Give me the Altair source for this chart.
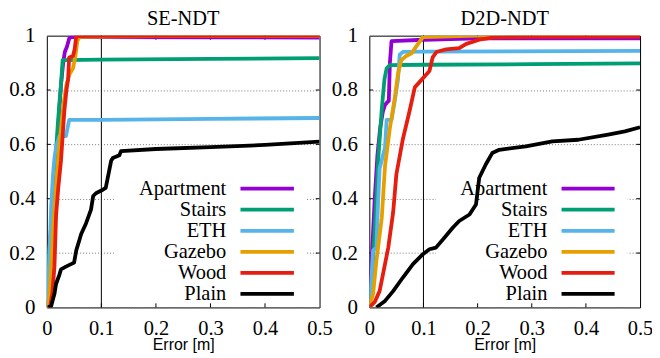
import altair as alt
import pandas as pd

names = ["Apartment", "Stairs", "ETH", "Gazebo", "Wood", "Plain"]
colors = ["#9400d3", "#009e73", "#56b4e9", "#e69f00", "#e51e10", "#000000"]
titles = ["SE-NDT", "D2D-NDT"]
x_ticks = [0, 0.1, 0.2, 0.3, 0.4, 0.5]
y_ticks = [0, 0.2, 0.4, 0.6, 0.8, 1]

# ---------------- SE-NDT ----------------
se_apartment_x = [0, 0.005, 0.01, 0.014, 0.018, 0.022, 0.026, 0.03, 0.033, 0.037, 0.041, 0.045, 0.1, 0.3, 0.5]
se_apartment_y = [0, 0.05, 0.2, 0.4, 0.55, 0.7, 0.82, 0.9, 0.94, 0.96, 0.99, 0.995, 0.995, 0.994, 0.993]
se_stairs_x = [0, 0.001, 0.004, 0.008, 0.012, 0.016, 0.02, 0.023, 0.026, 0.028, 0.029, 0.1, 0.3, 0.5]
se_stairs_y = [0, 0.1, 0.2, 0.3, 0.42, 0.55, 0.67, 0.75, 0.82, 0.88, 0.91, 0.912, 0.915, 0.917]
se_eth_x = [0, 0.002, 0.005, 0.008, 0.011, 0.014, 0.017, 0.023, 0.035, 0.037, 0.041, 0.1, 0.3, 0.5]
se_eth_y = [0, 0.05, 0.2, 0.37, 0.48, 0.55, 0.59, 0.63, 0.63, 0.65, 0.69, 0.69, 0.694, 0.697]
se_gazebo_x = [0, 0.004, 0.008, 0.012, 0.018, 0.024, 0.03, 0.036, 0.042, 0.048, 0.052, 0.056, 0.06, 0.2, 0.5]
se_gazebo_y = [0, 0.02, 0.15, 0.3, 0.48, 0.62, 0.74, 0.82, 0.86, 0.88, 0.92, 0.98, 0.996, 0.998, 0.999]
se_wood_x = [0.006, 0.01, 0.014, 0.017, 0.021, 0.026, 0.032, 0.036, 0.039, 0.041, 0.048, 0.051, 0.054, 0.1, 0.5]
se_wood_y = [0, 0.05, 0.15, 0.34, 0.44, 0.54, 0.72, 0.8, 0.84, 0.92, 0.925, 0.95, 0.998, 0.999, 1.0]
se_plain_x = [0.002, 0.008, 0.014, 0.017, 0.023, 0.026, 0.035, 0.05, 0.054, 0.06, 0.063, 0.072, 0.081, 0.085,
              0.09, 0.1, 0.108, 0.115, 0.118, 0.121, 0.133, 0.136, 0.2, 0.3, 0.4, 0.5]
se_plain_y = [0, 0.005, 0.05, 0.087, 0.12, 0.14, 0.15, 0.165, 0.21, 0.25, 0.27, 0.31, 0.36, 0.41,
              0.42, 0.43, 0.44, 0.51, 0.54, 0.55, 0.56, 0.575, 0.583, 0.59, 0.598, 0.61]

# ---------------- D2D-NDT ----------------
d2d_apartment_x = [0, 0.005, 0.01, 0.015, 0.02, 0.025, 0.029, 0.033, 0.036, 0.038, 0.041, 0.1, 0.2, 0.5]
d2d_apartment_y = [0, 0.2, 0.4, 0.56, 0.66, 0.72, 0.745, 0.755, 0.76, 0.9, 0.98, 0.985, 0.99, 0.99]
d2d_stairs_x = [0, 0.004, 0.01, 0.017, 0.023, 0.028, 0.032, 0.038, 0.1, 0.3, 0.5]
d2d_stairs_y = [0, 0.075, 0.29, 0.56, 0.73, 0.84, 0.88, 0.892, 0.893, 0.895, 0.898]
d2d_eth_x = [0, 0.003, 0.007, 0.013, 0.016, 0.019, 0.024, 0.029, 0.032, 0.041, 0.047, 0.053, 0.056, 0.062, 0.1, 0.5]
d2d_eth_y = [0, 0.08, 0.21, 0.22, 0.38, 0.51, 0.55, 0.59, 0.69, 0.69, 0.76, 0.84, 0.93, 0.94, 0.941, 0.944]
d2d_gazebo_x = [0, 0.007, 0.013, 0.023, 0.029, 0.038, 0.047, 0.053, 0.059, 0.068, 0.078, 0.09, 0.099, 0.2, 0.5]
d2d_gazebo_y = [0, 0.05, 0.17, 0.33, 0.52, 0.66, 0.77, 0.86, 0.91, 0.925, 0.935, 0.97, 0.995, 1.0, 1.0]
d2d_wood_x = [0, 0.01, 0.019, 0.026, 0.035, 0.044, 0.05, 0.062, 0.074, 0.084, 0.093, 0.102, 0.111, 0.117,
              0.124, 0.142, 0.166, 0.179, 0.203, 0.227, 0.3, 0.5]
d2d_wood_y = [0, 0.02, 0.06, 0.13, 0.22, 0.35, 0.49, 0.62, 0.72, 0.81, 0.83, 0.85, 0.87, 0.92,
              0.94, 0.95, 0.954, 0.97, 0.985, 0.993, 0.996, 0.997]
d2d_plain_x = [0.013, 0.029, 0.044, 0.062, 0.081, 0.099, 0.111, 0.123, 0.139, 0.154, 0.166, 0.185, 0.197,
               0.203, 0.215, 0.227, 0.24, 0.289, 0.338, 0.386, 0.441, 0.472, 0.5]
d2d_plain_y = [0, 0.024, 0.06, 0.11, 0.16, 0.196, 0.214, 0.22, 0.257, 0.293, 0.318, 0.342, 0.379,
               0.477, 0.526, 0.568, 0.58, 0.593, 0.611, 0.617, 0.636, 0.648, 0.663]

panels = [
    [(se_apartment_x, se_apartment_y), (se_stairs_x, se_stairs_y), (se_eth_x, se_eth_y),
     (se_gazebo_x, se_gazebo_y), (se_wood_x, se_wood_y), (se_plain_x, se_plain_y)],
    [(d2d_apartment_x, d2d_apartment_y), (d2d_stairs_x, d2d_stairs_y), (d2d_eth_x, d2d_eth_y),
     (d2d_gazebo_x, d2d_gazebo_y), (d2d_wood_x, d2d_wood_y), (d2d_plain_x, d2d_plain_y)],
]

SERIF = "Liberation Serif, Times New Roman, Times, serif"
SANS = "Liberation Sans, Arial, Helvetica, sans-serif"


def X(field):
    return alt.X(field, type="quantitative",
                 scale=alt.Scale(domain=[0, 0.5], nice=False, zero=False),
                 axis=alt.Axis(values=x_ticks, format="~g", title="Error [m]", grid=False,
                               ticks=False, domain=False, labelFont=SERIF, labelFontSize=20.5,
                               labelPadding=11, labelColor="black", titleFont=SANS,
                               titleFontSize=16, titleFontWeight="normal", titleColor="black",
                               titlePadding=-2, labelOverlap=False, labelFlush=False))


def Y(field):
    return alt.Y(field, type="quantitative",
                 scale=alt.Scale(domain=[0, 1], nice=False, zero=False),
                 axis=alt.Axis(values=y_ticks, format="~g", title=None, grid=True,
                               gridDash=[1, 2], gridColor="#777777", gridWidth=1,
                               ticks=False, domain=False, labelFont=SERIF, labelFontSize=21,
                               labelPadding=12, labelColor="black", labelOverlap=False,
                               labelFlush=False))


def panel(title, series, width):
    layers = []
    # white legend box (hides grid lines)
    box = pd.DataFrame({"bx0": [0.123], "bx1": [0.477], "by0": [0.01], "by1": [0.5]})
    layers.append(alt.Chart(box).mark_rect(color="white").encode(
        x=X("bx0"), x2="bx1", y=Y("by0"), y2="by1"))
    # vertical reference line at 0.1
    vl = pd.DataFrame({"vx": [0.1], "vy0": [0], "vy1": [1]})
    layers.append(alt.Chart(vl).mark_rule(color="black", strokeWidth=1).encode(
        x=X("vx"), y=Y("vy0"), y2="vy1"))
    # inward ticks
    tk = []
    for t in x_ticks[1:-1]:
        tk.append({"tx0": t, "tx1": t, "ty0": 0, "ty1": 0.015})
        tk.append({"tx0": t, "tx1": t, "ty0": 1, "ty1": 0.985})
    for t in y_ticks[1:-1]:
        tk.append({"tx0": 0, "tx1": 0.007, "ty0": t, "ty1": t})
        tk.append({"tx0": 0.5, "tx1": 0.493, "ty0": t, "ty1": t})
    layers.append(alt.Chart(pd.DataFrame(tk)).mark_rule(color="black", strokeWidth=1).encode(
        x=X("tx0"), x2="tx1", y=Y("ty0"), y2="ty1"))
    # data lines
    for (xs, ys), c in zip(series, colors):
        df = pd.DataFrame({"x": xs, "y": ys})
        layers.append(alt.Chart(df).mark_line(color=c, strokeWidth=3.8, clip=True,
                                              strokeJoin="round").encode(
            x=X("x"), y=Y("y"), order="x:Q"))
    # legend
    leg = pd.DataFrame({"name": names, "i": list(range(len(names)))})
    leg["ly"] = 0.437 - 0.0775 * leg["i"]
    leg["lx"] = 0.329
    leg["lx0"] = 0.355
    leg["lx1"] = 0.453
    layers.append(alt.Chart(leg).mark_rule(strokeWidth=3.8).encode(
        x=X("lx0"), x2="lx1", y=Y("ly"),
        color=alt.Color("name:N", scale=alt.Scale(domain=names, range=colors), legend=None)))
    layers.append(alt.Chart(leg).mark_text(align="right", baseline="middle", font=SERIF,
                                           fontSize=20.5, color="black").encode(
        x=X("lx"), y=Y("ly"), text="name:N"))
    return alt.layer(*layers).properties(
        width=width, height=273,
        title=alt.TitleParams(title, font=SERIF, fontSize=20.5, fontWeight="normal",
                              color="black", offset=-5, anchor="middle"))


left = panel(titles[0], panels[0], 274)
right = panel(titles[1], panels[1], 272)

chart = alt.hconcat(left, right, spacing=-3).properties(
    padding={"left": 0, "top": 0, "right": -2, "bottom": 0},
    background="white").configure_view(stroke="black", strokeWidth=1)

chart.save("out.html", embed_options={"renderer": "svg", "actions": False})
